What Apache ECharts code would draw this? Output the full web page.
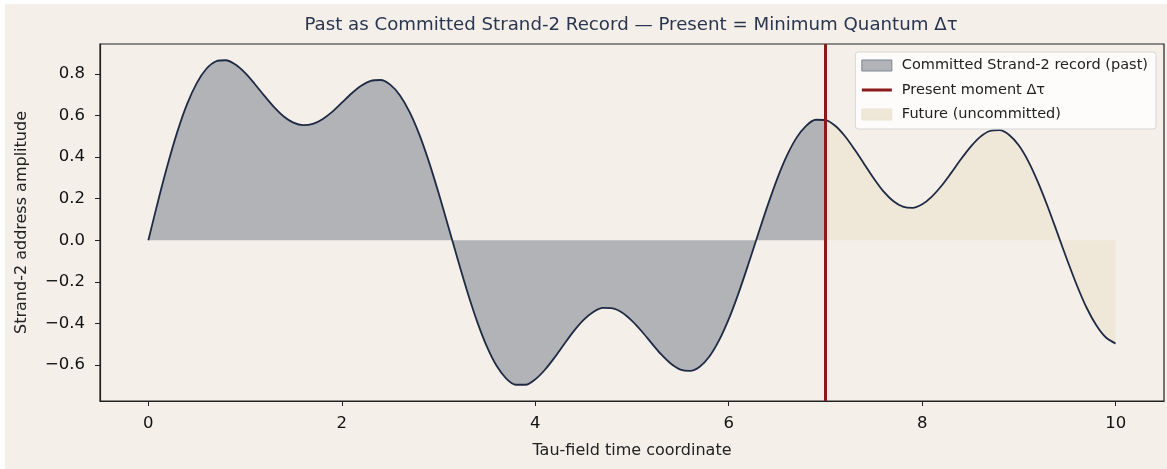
<!DOCTYPE html>
<html>
<head>
<meta charset="utf-8">
<script src="https://cdn.jsdelivr.net/npm/echarts@6/dist/echarts.min.js"></script>
<style>
  html, body { margin: 0; padding: 0; background: #ffffff; }
  #chart { position: absolute; left: 5px; top: 4px; width: 1162px; height: 465px; background: #f4f0e9; }
</style>
</head>
<body>
<div id="chart"></div>
<script>
// Tau-field time coordinate samples
const tauValues = [0, 0.1, 0.2, 0.3, 0.4, 0.5, 0.6, 0.7, 0.8, 0.9, 1.0, 1.1, 1.2, 1.3, 1.4, 1.5, 1.6, 1.7, 1.8, 1.9,
  2.0, 2.1, 2.2, 2.3, 2.4, 2.5, 2.6, 2.7, 2.8, 2.9, 3.0, 3.1, 3.2, 3.3, 3.4, 3.5, 3.6, 3.7, 3.8, 3.9,
  4.0, 4.1, 4.2, 4.3, 4.4, 4.5, 4.6, 4.7, 4.8, 4.9, 5.0, 5.1, 5.2, 5.3, 5.4, 5.5, 5.6, 5.7, 5.8, 5.9,
  6.0, 6.1, 6.2, 6.3, 6.4, 6.5, 6.6, 6.7, 6.8, 6.9, 7.0, 7.1, 7.2, 7.3, 7.4, 7.5, 7.6, 7.7, 7.8, 7.9,
  8.0, 8.1, 8.2, 8.3, 8.4, 8.5, 8.6, 8.7, 8.8, 8.9, 9.0, 9.1, 9.2, 9.3, 9.4, 9.5, 9.6, 9.7, 9.8, 9.9, 10.0];
// Strand-2 address amplitude
const amplitude = [0, 0.188, 0.364, 0.522, 0.654, 0.755, 0.824, 0.860, 0.865, 0.844, 0.804, 0.751, 0.694, 0.640, 0.595, 0.565, 0.553, 0.559, 0.582, 0.617,
  0.661, 0.705, 0.742, 0.766, 0.770, 0.748, 0.697, 0.617, 0.510, 0.378, 0.228, 0.068, -0.095, -0.251, -0.392, -0.511, -0.603, -0.664, -0.694, -0.694,
  -0.668, -0.622, -0.563, -0.498, -0.435, -0.382, -0.344, -0.325, -0.327, -0.348, -0.387, -0.437, -0.493, -0.547, -0.592, -0.621, -0.627, -0.607, -0.558, -0.481,
  -0.379, -0.256, -0.119, 0.024, 0.164, 0.294, 0.405, 0.492, 0.550, 0.579, 0.577, 0.550, 0.501, 0.437, 0.367, 0.297, 0.235, 0.189, 0.162, 0.156,
  0.173, 0.210, 0.262, 0.324, 0.389, 0.449, 0.497, 0.525, 0.529, 0.506, 0.455, 0.377, 0.276, 0.159, 0.032, -0.096, -0.217, -0.324, -0.408, -0.467, -0.496];
const presentMoment = 7;
const xTicks = [0, 2, 4, 6, 8, 10];
const yTicks = [-0.6, -0.4, -0.2, 0.0, 0.2, 0.4, 0.6, 0.8];
const legendNames = ['Committed Strand-2 record (past)', 'Present moment Δτ', 'Future (uncommitted)'];
const titleText = 'Past as Committed Strand-2 Record — Present = Minimum Quantum Δτ';

const allPts = tauValues.map((t, i) => [t, amplitude[i]]);
const pastPts = allPts.filter(p => p[0] <= presentMoment);
const futurePts = allPts.filter(p => p[0] >= presentMoment);

const FONT = 'DejaVu Sans';
const chart = echarts.init(document.getElementById('chart'), null, { renderer: 'canvas' });
const fmt = v => {
  const s = Math.abs(v).toFixed(1);
  return (v < -1e-9 ? '\u2212' : '') + s;
};
const SMOOTH = 0.3;
chart.setOption({
  animation: false,
  backgroundColor: '#f4f0e9',
  textStyle: { fontFamily: FONT },
  title: {
    text: titleText,
    left: 621, top: 7, textAlign: 'center',
    textStyle: { fontFamily: FONT, fontSize: 18.2, fontWeight: 'normal', color: '#2a3550' }
  },
  legend: {
    data: [
      { name: legendNames[0], icon: 'rect', itemStyle: { color: '#b2b3b7', borderColor: '#7f8595', borderWidth: 1 } },
      { name: legendNames[1], icon: 'path://M0 0M30 10M0 3.5H30V6.5H0Z', itemStyle: { color: '#8b1a1a', borderWidth: 0 } },
      { name: legendNames[2], icon: 'rect', itemStyle: { color: '#efe7d8', borderColor: '#ebe3d3', borderWidth: 1 } }
    ],
    orient: 'vertical',
    right: 11, top: 48,
    itemWidth: 30, itemHeight: 11, itemGap: 9.5,
    padding: [6, 8, 7, 6],
    backgroundColor: 'rgba(255,255,255,0.8)',
    borderColor: '#d6d6d6', borderWidth: 1, borderRadius: 3,
    textStyle: { fontFamily: FONT, fontSize: 14.5, color: '#222', padding: [0, 0, 0, 5] },
    selectedMode: false
  },
  grid: {
    left: 95, top: 40, right: 3, bottom: 68,
    show: true, borderColor: '#222', borderWidth: 1.2, backgroundColor: 'transparent'
  },
  xAxis: {
    type: 'value', min: -0.5, max: 10.5,
    name: 'Tau-field time coordinate', nameLocation: 'middle', nameGap: 42,
    nameTextStyle: { fontFamily: FONT, fontSize: 16, color: '#222' },
    axisLine: { show: true, onZero: false, lineStyle: { color: '#222', width: 1.2 } },
    axisTick: { show: true, length: 5, customValues: xTicks, lineStyle: { color: '#222' } },
    axisLabel: { customValues: xTicks, margin: 14, fontFamily: FONT, fontSize: 16.5, color: '#111', formatter: v => String(Math.round(v)) },
    splitLine: { show: false }
  },
  yAxis: {
    type: 'value', min: -0.772, max: 0.943,
    name: 'Strand-2 address amplitude', nameLocation: 'middle', nameGap: 70, nameRotate: 90,
    nameTextStyle: { fontFamily: FONT, fontSize: 16, color: '#222' },
    axisLine: { show: true, onZero: false, lineStyle: { color: '#222', width: 1.2 } },
    axisTick: { show: true, length: 5, customValues: yTicks, lineStyle: { color: '#222' } },
    axisLabel: { customValues: yTicks, margin: 15, fontFamily: FONT, fontSize: 16.5, color: '#111', formatter: fmt },
    splitLine: { show: false }
  },
  series: [
    {
      name: legendNames[0], type: 'line', data: pastPts, smooth: SMOOTH, symbol: 'none',
      lineStyle: { width: 0, color: '#b2b3b7' }, itemStyle: { color: '#b2b3b7' },
      areaStyle: { color: '#b2b3b7', opacity: 1, origin: 0 }, z: 1
    },
    {
      name: legendNames[2], type: 'line', data: futurePts, smooth: SMOOTH, symbol: 'none',
      lineStyle: { width: 0, color: '#efe7d8' }, itemStyle: { color: '#efe7d8' },
      areaStyle: { color: '#efe7d8', opacity: 1, origin: 0 }, z: 1
    },
    {
      name: 'curve', type: 'line', data: allPts, smooth: SMOOTH, symbol: 'none',
      lineStyle: { width: 1.8, color: '#1f2a44', join: 'round' }, z: 3
    },
    {
      name: legendNames[1], type: 'line', data: [], symbol: 'none',
      lineStyle: { width: 3, color: '#8b1a1a' }, itemStyle: { color: '#8b1a1a' },
      markLine: {
        silent: true, symbol: ['none', 'none'], label: { show: false },
        lineStyle: { type: 'solid', width: 3, color: '#8b1a1a' },
        data: [{ xAxis: presentMoment }]
      }, z: 4
    }
  ]
});
</script>
</body>
</html>
